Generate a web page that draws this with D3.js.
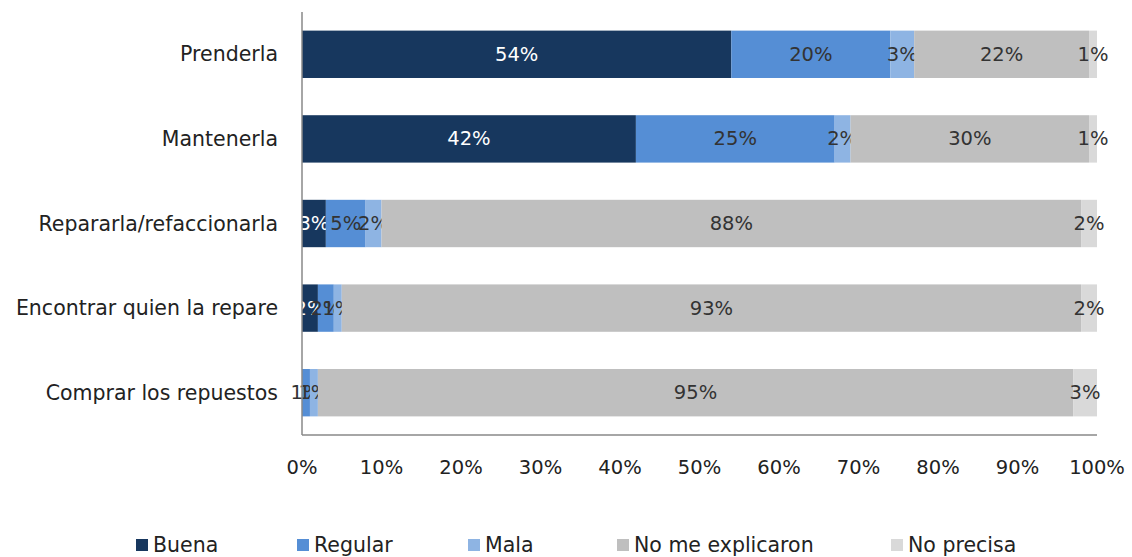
<!DOCTYPE html>
<html><head><meta charset="utf-8">
<script src="https://cdn.jsdelivr.net/npm/d3@7"></script>
<style>
body{margin:0;background:#fff;}
text{font-family:"DejaVu Sans","Liberation Sans",sans-serif;}
</style></head>
<body><svg id="c" width="1132" height="557"></svg>
<script>
const categories = ["Prenderla","Mantenerla","Repararla/refaccionarla","Encontrar quien la repare","Comprar los repuestos"];
const seriesNames = ["Buena","Regular","Mala","No me explicaron","No precisa"];
const buena = [54,42,3,2,0];
const regular = [20,25,5,2,1];
const mala = [3,2,2,1,1];
const noExplicaron = [22,30,88,93,95];
const noPrecisa = [1,1,2,2,3];
const xTicks = [0,10,20,30,40,50,60,70,80,90,100];
const colors = ["#17375E","#558ED5","#8EB4E3","#BFBFBF","#D9D9D9"];
const labelColors = ["#ffffff","#333333","#333333","#333333","#333333"];

(function(){
const seriesVals = [buena,regular,mala,noExplicaron,noPrecisa];
const rows = categories.map((c,i)=>{const o={cat:c}; seriesNames.forEach((s,j)=>o[s]=seriesVals[j][i]); return o;});
const stack = d3.stack().keys(seriesNames)(rows);
const fs = 20.5;

const svg = d3.select("#c");
const pL=302, pR=1097, pT=12, pB=435;
const x = d3.scaleLinear().domain([0,100]).range([pL,pR]);
const y = d3.scaleBand().domain(categories).range([pT,pB]).paddingInner(0.44).paddingOuter(0.22);

stack.forEach((layer,j)=>{
  const g = svg.append("g");
  g.selectAll("rect").data(layer).join("rect")
    .attr("x",d=>x(d[0])).attr("width",d=>x(d[1])-x(d[0]))
    .attr("y",d=>y(d.data.cat)).attr("height",y.bandwidth())
    .attr("fill",colors[j]);
  g.selectAll("text").data(layer.filter(d=>d[1]-d[0]>0)).join("text")
    .attr("x",d=>(x(d[0])+x(d[1]))/2).attr("y",d=>y(d.data.cat)+y.bandwidth()/2)
    .attr("text-anchor","middle").attr("dominant-baseline","central")
    .attr("font-size",fs-1).attr("fill",labelColors[j])
    .text(d=>(d[1]-d[0])+"%");
});

svg.append("line").attr("x1",pL).attr("x2",pL).attr("y1",pT).attr("y2",pB).attr("stroke","#888").attr("stroke-width",1.5);
svg.append("line").attr("x1",pL).attr("x2",pR).attr("y1",pB).attr("y2",pB).attr("stroke","#888").attr("stroke-width",1.5);

svg.append("g").selectAll("text").data(categories).join("text")
  .attr("x",pL-24).attr("y",d=>y(d)+y.bandwidth()/2)
  .attr("text-anchor","end").attr("dominant-baseline","central")
  .attr("font-size",fs).attr("fill","#222").text(d=>d);

svg.append("g").selectAll("text").data(xTicks).join("text")
  .attr("x",d=>x(d)).attr("y",467)
  .attr("text-anchor","middle").attr("dominant-baseline","central")
  .attr("font-size",fs-1).attr("fill","#222").text(d=>d+"%");

const legX=[136,297,468,617,891];
const lg = svg.append("g").selectAll("g").data(seriesNames).join("g")
  .attr("transform",(d,i)=>`translate(${legX[i]},545)`);
lg.append("rect").attr("x",0).attr("y",-6).attr("width",12).attr("height",12).attr("fill",(d,i)=>colors[i]);
lg.append("text").attr("x",17).attr("y",0).attr("dominant-baseline","central")
  .attr("font-size",fs).attr("fill","#222").text(d=>d);
})();
</script></body></html>
